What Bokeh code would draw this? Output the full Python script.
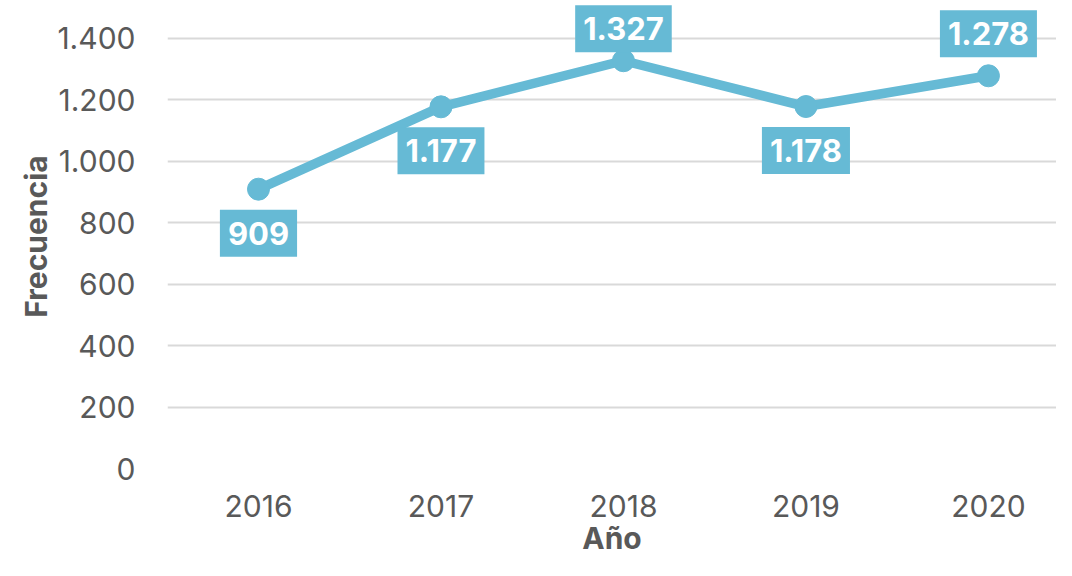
from bokeh.plotting import figure
from bokeh.models import ColumnDataSource, FixedTicker, Range1d
from bokeh.core.properties import value
from bokeh.embed import file_html
from bokeh.resources import INLINE

years = ["2016", "2017", "2018", "2019", "2020"]
values = [909, 1177, 1327, 1178, 1278]
y_ticks = [0, 200, 400, 600, 800, 1000, 1200, 1400]

def fmt(v):
    return f"{v:,}".replace(",", ".")

BLUE = "#66BAD5"
GREY = "#595959"
FONT = "Inter"

idx = list(range(len(years)))
# screen offsets (positive = downward)
label_offsets = [44 if i in (0, 1, 3) else (-32 if i == 2 else -42) for i in idx]
src = ColumnDataSource(dict(x=idx, y=values, lab=[fmt(v) for v in values], yo=label_offsets))

YMAX = 1510
p = figure(width=1056, height=560, output_backend="svg", toolbar_location=None,
           x_range=Range1d(-0.4986, 4.373), y_range=Range1d(0, YMAX),
           min_border_left=167, min_border_right=0, min_border_top=4, min_border_bottom=92)
p.outline_line_color = None
p.background_fill_color = "white"

p.xgrid.grid_line_color = None
p.ygrid.grid_line_color = "#D9D9D9"
p.ygrid.grid_line_width = 2
p.ygrid.ticker = FixedTicker(ticks=y_ticks)

p.line("x", "y", source=src, line_color=BLUE, line_width=9.5)
p.scatter("x", "y", source=src, size=22, fill_color=BLUE, line_color=BLUE)

p.text("x", "y", text="lab", source=src, y_offset="yo",
       text_align="center", text_baseline="middle",
       text_font=value(FONT), text_font_style="bold", text_font_size="31px",
       text_color="white", background_fill_color=BLUE,
       padding=dict(left=8, right=8, top=12, bottom=12))

p.xaxis.ticker = FixedTicker(ticks=idx)
p.xaxis.major_label_overrides = {i: y for i, y in zip(idx, years)}
p.yaxis.ticker = FixedTicker(ticks=y_ticks)
p.yaxis.major_label_overrides = {t: fmt(t) for t in y_ticks}

for ax in (p.xaxis[0], p.yaxis[0]):
    ax.axis_line_color = None
    ax.major_tick_line_color = None
    ax.minor_tick_line_color = None
    ax.major_label_text_font = FONT
    ax.major_label_text_font_size = "30px"
    ax.major_label_text_color = GREY
    ax.axis_label_text_font = FONT
    ax.axis_label_text_font_style = "bold"
    ax.axis_label_text_font_size = "30px"
    ax.axis_label_text_color = GREY

p.xaxis.axis_label = "Año"
p.yaxis.axis_label = "Frecuencia"
p.xaxis.major_label_standoff = 20
p.xaxis.axis_label_standoff = 0
p.yaxis.major_label_standoff = 26
p.yaxis.axis_label_standoff = 0

open("out.html", "w").write(file_html(p, INLINE))
